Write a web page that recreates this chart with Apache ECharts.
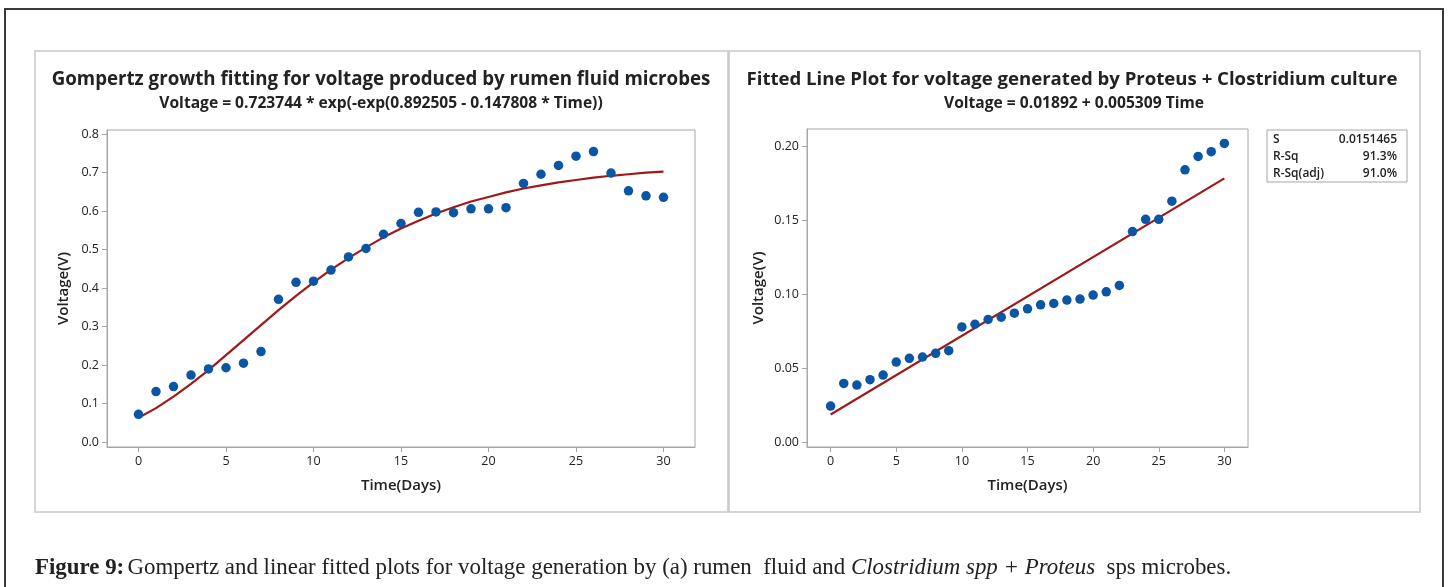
<!DOCTYPE html>
<html>
<head>
<meta charset="utf-8">
<script src="https://cdn.jsdelivr.net/npm/echarts@6/dist/echarts.min.js"></script>
<style>
html,body{margin:0;padding:0;background:#fff;}
#chart{width:1449px;height:587px;}
</style>
</head>
<body>
<div id="chart"></div>
<script>
// ---- data ----
const days = [0,1,2,3,4,5,6,7,8,9,10,11,12,13,14,15,16,17,18,19,20,21,22,23,24,25,26,27,28,29,30];
const rumenVoltage = [0.072,0.131,0.144,0.174,0.190,0.193,0.205,0.235,0.371,0.415,0.418,0.447,0.481,0.503,0.540,0.568,0.597,0.598,0.596,0.606,0.606,0.609,0.672,0.696,0.719,0.743,0.755,0.699,0.653,0.640,0.636];
const rumenFit = [0.063,0.088,0.118,0.151,0.187,0.226,0.265,0.304,0.343,0.380,0.415,0.448,0.478,0.506,0.532,0.555,0.575,0.594,0.610,0.625,0.637,0.649,0.659,0.667,0.675,0.681,0.687,0.692,0.696,0.700,0.703];
const protVoltage = [0.0246,0.0399,0.0388,0.0424,0.0455,0.0543,0.0568,0.0577,0.0602,0.0620,0.0780,0.0798,0.0830,0.0846,0.0873,0.0902,0.0929,0.0938,0.0961,0.0968,0.0995,0.1017,0.1060,0.1423,0.1506,0.1506,0.1628,0.1840,0.1930,0.1962,0.2018];
const protFitDays = [0,30];
const protFit = [0.0189,0.1782];
const xTicks = [0,5,10,15,20,25,30];
const yTicksLeft = [0,0.1,0.2,0.3,0.4,0.5,0.6,0.7,0.8];
const yTicksRight = [0,0.05,0.10,0.15,0.20];
const statsLabels = ['S','R-Sq','R-Sq(adj)'];
const statsValues = ['0.0151465','91.3%','91.0%'];

const FONT = '"Open Sans", "Noto Sans", sans-serif';
const DOT = '#0a56a5';
const LINE = '#9e1a1a';
const AXC = '#a6a6a6';

function pairs(xs, ys){ return xs.map((x,i)=>[x, ys[i]]); }

function xAxisCfg(gi){
  return {
    gridIndex: gi, type:'value', min:-1.8, max:31.8,
    name:'Time(Days)', nameLocation:'middle', nameGap:31,
    nameTextStyle:{fontFamily:FONT, fontSize:15, fontWeight:600, color:'#222'},
    axisLine:{show:true, onZero:false, lineStyle:{color:AXC}},
    axisTick:{show:true, length:5, customValues:xTicks, lineStyle:{color:AXC}},
    axisLabel:{customValues:xTicks, fontFamily:FONT, fontSize:12.5, color:'#222', margin:8},
    splitLine:{show:false}
  };
}
function yAxisCfg(gi, min, max, ticks, dec, gap){
  return {
    gridIndex: gi, type:'value', min:min, max:max,
    name:'Voltage(V)', nameLocation:'middle', nameGap:gap, nameRotate:90,
    nameTextStyle:{fontFamily:FONT, fontSize:15, fontWeight:600, color:'#222'},
    axisLine:{show:true, onZero:false, lineStyle:{color:AXC}},
    axisTick:{show:true, length:5, customValues:ticks, lineStyle:{color:AXC}},
    axisLabel:{customValues:ticks, formatter:v=>v.toFixed(dec), fontFamily:FONT, fontSize:12.5, color:'#222', margin:8},
    splitLine:{show:false}
  };
}

const graphics = [
  {type:'rect', shape:{x:5, y:9, width:1438, height:620}, style:{fill:'none', stroke:'#3a3a3a', lineWidth:2}, silent:true},
  {type:'rect', shape:{x:35, y:51, width:693, height:461}, style:{fill:'none', stroke:'#c8c8c8', lineWidth:1.5}, silent:true},
  {type:'rect', shape:{x:729, y:51, width:691, height:461}, style:{fill:'none', stroke:'#c8c8c8', lineWidth:1.5}, silent:true},
  {type:'text', x:381, y:80, style:{text:'Gompertz growth fitting for voltage produced by rumen fluid microbes', font:'bold 18.7px '+FONT, fill:'#222', textAlign:'center', textVerticalAlign:'middle'}},
  {type:'text', x:381, y:104, style:{text:'Voltage = 0.723744 * exp(-exp(0.892505 - 0.147808 * Time))', font:'bold 15.6px '+FONT, fill:'#222', textAlign:'center', textVerticalAlign:'middle'}},
  {type:'text', x:1072, y:80, style:{text:'Fitted Line Plot for voltage generated by Proteus + Clostridium culture', font:'bold 18.6px '+FONT, fill:'#222', textAlign:'center', textVerticalAlign:'middle'}},
  {type:'text', x:1074, y:104, style:{text:'Voltage = 0.01892 + 0.005309 Time', font:'bold 15.6px '+FONT, fill:'#222', textAlign:'center', textVerticalAlign:'middle'}},
  {type:'rect', shape:{x:1267, y:130, width:140, height:52}, style:{fill:'#fff', stroke:AXC, lineWidth:1}, silent:true},
  {type:'text', x:35, y:568, style:{
    text:'{b|Figure 9:} {n|Gompertz and linear fitted plots for voltage generation by (a) rumen  fluid and }{i|Clostridium spp + Proteus}{n|  sps microbes.}',
    textVerticalAlign:'middle',
    rich:{
      b:{font:'bold 22.9px "Liberation Serif", serif', fill:'#222'},
      n:{font:'22.9px "Liberation Serif", serif', fill:'#222'},
      i:{font:'italic 22.9px "Liberation Serif", serif', fill:'#222'}
    }
  }}
];
statsLabels.forEach((s,i)=>{
  graphics.push({type:'text', x:1273, y:140+i*17, style:{text:s, font:'600 12px '+FONT, fill:'#222', textVerticalAlign:'middle'}});
  graphics.push({type:'text', x:1397, y:140+i*17, style:{text:statsValues[i], font:'600 12px '+FONT, fill:'#222', textAlign:'right', textVerticalAlign:'middle'}});
});

const chart = echarts.init(document.getElementById('chart'));
chart.setOption({
  backgroundColor:'#fff',
  animation:false,
  grid:[
    {left:107, top:130, width:588, height:317, show:true, borderColor:AXC, borderWidth:1, backgroundColor:'#fff'},
    {left:807, top:129, width:441, height:318, show:true, borderColor:AXC, borderWidth:1, backgroundColor:'#fff'}
  ],
  xAxis:[xAxisCfg(0), xAxisCfg(1)],
  yAxis:[
    yAxisCfg(0, -0.013, 0.811, yTicksLeft, 1, 36),
    yAxisCfg(1, -0.003, 0.2115, yTicksRight, 2, 41)
  ],
  series:[
    {type:'line', xAxisIndex:0, yAxisIndex:0, data:pairs(days, rumenFit), showSymbol:false, lineStyle:{color:LINE, width:2.2}, z:2},
    {type:'scatter', xAxisIndex:0, yAxisIndex:0, data:pairs(days, rumenVoltage), symbolSize:9.5, itemStyle:{color:DOT, opacity:1}, z:3},
    {type:'line', xAxisIndex:1, yAxisIndex:1, data:pairs(protFitDays, protFit), showSymbol:false, lineStyle:{color:LINE, width:2.2}, z:2},
    {type:'scatter', xAxisIndex:1, yAxisIndex:1, data:pairs(days, protVoltage), symbolSize:9.5, itemStyle:{color:DOT, opacity:1}, z:3}
  ],
  graphic:graphics
});
</script>
</body>
</html>
